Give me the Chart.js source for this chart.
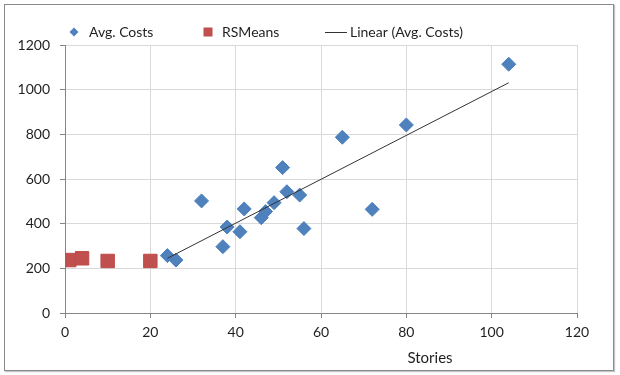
<!DOCTYPE html>
<html>
<head>
<meta charset="utf-8">
<title>Avg. Costs vs Stories</title>
<script src="https://cdn.jsdelivr.net/npm/chart.js@4.4.1/dist/chart.umd.min.js"></script>
<style>
  body { margin: 0; background: #fff; }
  #wrap { position: relative; width: 620px; height: 375px; }
  #frame {
    position: absolute; left: 4px; top: 4px; width: 608px; height: 365px;
    border: 1px solid #8a8a8a; box-shadow: 1px 1px 1px #c4c4c4;
  }
  canvas { position: absolute; left: 0; top: 0; }
</style>
</head>
<body>
<div id="wrap">
  <div id="frame"></div>
  <canvas id="costChart" width="620" height="375"></canvas>
</div>
<script>
// values
const avgStories = [24, 26, 32, 37, 38, 41, 42, 46, 47, 49, 51, 52, 55, 56, 65, 72, 80, 104];
const avgCosts = [257, 237, 502, 297, 385, 364, 466, 427, 454, 494, 651, 543, 528, 378, 787, 464, 842, 1114];
const rsStories = [1, 4, 10, 20];
const rsCosts = [237, 245, 233, 233];
// linear trend line ends (as drawn in the picture)
const trendStories = [24, 104];
const trendCosts = [245, 1031];

const xMax = 120, xStep = 20;
const yMax = 1200, yStep = 200;
const xTitle = "Stories";

const fontFamily = "Lato, 'Open Sans', sans-serif";
const textColor = "#1f1f1f";
const axisColor = "#868686";
const gridColor = "#d9d9d9";

function toPoints(xs, ys) {
  return xs.map((x, i) => ({ x: x, y: ys[i] }));
}

// legend + axis title drawn by hand so they sit where Excel put them
const legendItems = [
  { marker: 0, x: 74, textX: 89 },
  { marker: 1, x: 208, textX: 222 },
  { marker: 2, x: 336, textX: 350 },
];

const excelLegend = {
  id: "excelLegend",
  afterDraw(chart) {
    const ctx = chart.ctx;
    const y = 32;
    ctx.save();
    legendItems.forEach((item) => {
      const ds = chart.data.datasets[item.marker];
      ctx.fillStyle = ds.backgroundColor;
      ctx.strokeStyle = ds.borderColor;
      ctx.lineWidth = 1;
      ctx.beginPath();
      if (ds.pointStyle === "rectRot") {
        ctx.moveTo(item.x - 4.5, y);
        ctx.lineTo(item.x, y - 4.5);
        ctx.lineTo(item.x + 4.5, y);
        ctx.lineTo(item.x, y + 4.5);
        ctx.closePath();
        ctx.fill();
      } else if (ds.pointStyle === "rect") {
        ctx.rect(item.x - 4.5, y - 4.5, 9, 9);
        ctx.fill();
      } else {
        ctx.moveTo(item.x - 11, y + 0.5);
        ctx.lineTo(item.x + 11, y + 0.5);
        ctx.stroke();
      }
      ctx.fillStyle = textColor;
      ctx.font = "14px " + fontFamily;
      ctx.textBaseline = "middle";
      ctx.textAlign = "left";
      ctx.fillText(ds.label, item.textX, y);
    });
    ctx.font = "15px " + fontFamily;
    ctx.textAlign = "center";
    ctx.fillText(xTitle, 430, 358);
    ctx.restore();
  },
};

const ctx = document.getElementById("costChart").getContext("2d");
const costChart = new Chart(ctx, {
  type: "scatter",
  data: {
    datasets: [
      {
        label: "Avg. Costs",
        data: toPoints(avgStories, avgCosts),
        pointStyle: "rectRot",
        pointRadius: 7,
        backgroundColor: "#4F81BD",
        borderColor: "#4A7EBB",
        borderWidth: 1,
        order: 1,
      },
      {
        label: "RSMeans",
        data: toPoints(rsStories, rsCosts),
        pointStyle: "rect",
        pointRadius: 9.5,
        backgroundColor: "#C0504D",
        borderColor: "#BE4B48",
        borderWidth: 1,
        order: 1,
      },
      {
        label: "Linear (Avg. Costs)",
        data: toPoints(trendStories, trendCosts),
        showLine: true,
        pointRadius: 0,
        backgroundColor: "#333333",
        borderColor: "#333333",
        borderWidth: 1,
        order: 0,
      },
    ],
  },
  options: {
    responsive: false,
    animation: false,
    layout: { padding: { top: 45, right: 43, left: 0, bottom: 0 } },
    plugins: {
      legend: { display: false },
      tooltip: { enabled: false },
    },
    scales: {
      x: {
        type: "linear",
        min: 0,
        max: xMax,
        afterFit: (scale) => { scale.height = 62; },
        ticks: {
          stepSize: xStep,
          padding: 6,
          color: textColor,
          font: { family: fontFamily, size: 14 },
          callback: (value) => String(value),
        },
        grid: { color: gridColor, tickColor: axisColor, tickLength: 5 },
        border: { color: axisColor },
      },
      y: {
        min: 0,
        max: yMax,
        afterFit: (scale) => { scale.width = 65; },
        ticks: {
          stepSize: yStep,
          padding: 10,
          color: textColor,
          font: { family: fontFamily, size: 14 },
          callback: (value) => String(value),
        },
        grid: { color: gridColor, tickColor: axisColor, tickLength: 5 },
        border: { color: axisColor },
      },
    },
  },
  plugins: [excelLegend],
});
</script>
</body>
</html>
